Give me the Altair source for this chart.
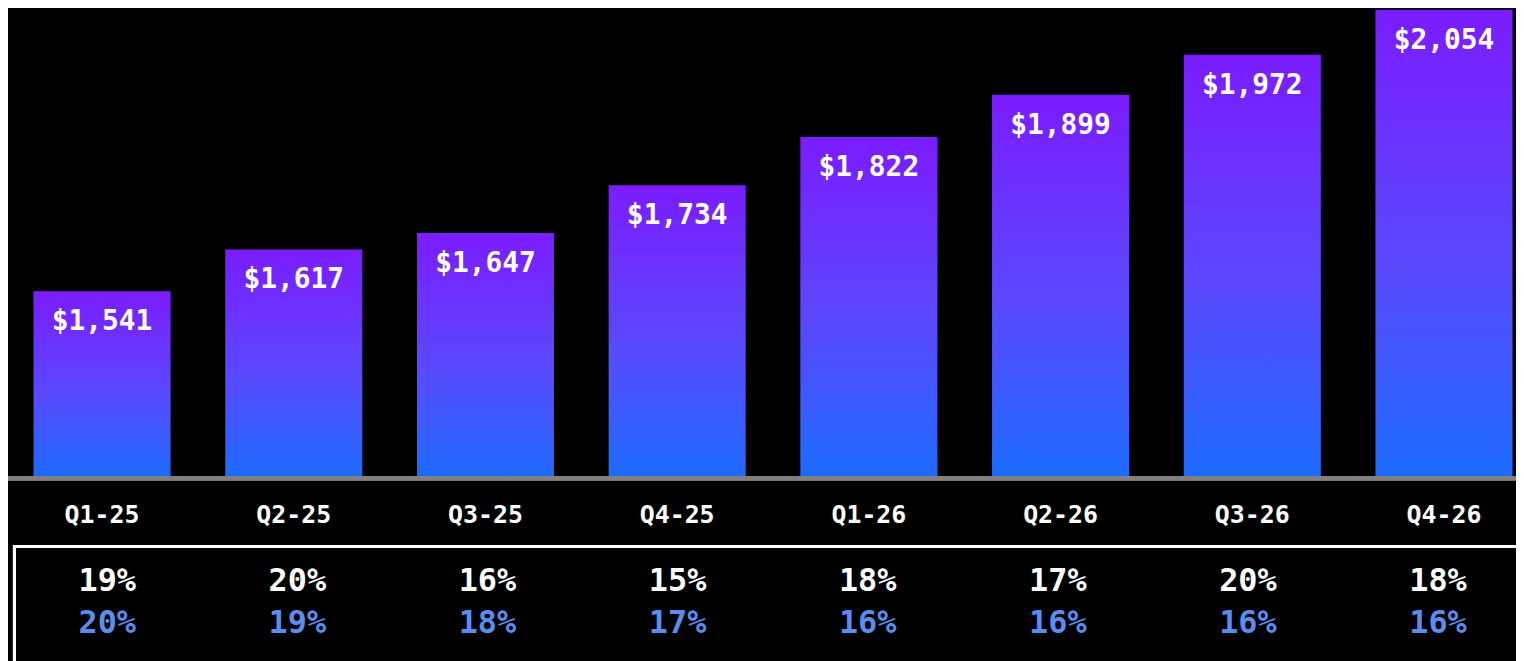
import altair as alt
import pandas as pd

quarters = ["Q1-25", "Q2-25", "Q3-25", "Q4-25", "Q1-26", "Q2-26", "Q3-26", "Q4-26"]
values = [1541, 1617, 1647, 1734, 1822, 1899, 1972, 2054]
growth_top = ["19%", "20%", "16%", "15%", "18%", "17%", "20%", "18%"]
growth_bottom = ["20%", "19%", "18%", "17%", "16%", "16%", "16%", "16%"]

Y_MIN = 1202
Y_MAX = 2054
FONT = "DejaVu Sans Mono"

df = pd.DataFrame({
    "quarter": quarters,
    "value": values,
    "label": ["${:,}".format(v) for v in values],
    "g1": growth_top,
    "g2": growth_bottom,
})

x = alt.X("quarter:N", sort=quarters, axis=None,
          scale=alt.Scale(paddingInner=0.285, paddingOuter=0.0756, align=0.88, round=False))
x_pct = alt.X("quarter:N", sort=quarters, axis=None,
              scale=alt.Scale(type="point", padding=0.466, align=0.56, round=False))
yscale = alt.Scale(domain=[Y_MIN, Y_MAX], range=[470, 0], zero=False, clamp=True)

base = alt.Chart(df)

bars = base.mark_bar(
    fill=alt.Gradient(
        gradient="linear",
        stops=[alt.GradientStop(color="#7B1CFF", offset=0),
               alt.GradientStop(color="#5A49FF", offset=0.55),
               alt.GradientStop(color="#1C6BFF", offset=1)],
        x1=0, x2=0, y1=0, y2=1,
    )
).encode(
    x=x,
    y=alt.Y("value:Q", scale=yscale, axis=None),
    y2=alt.datum(Y_MIN),
)

value_labels = base.mark_text(
    font=FONT, fontWeight="bold", fontSize=28, color="white",
    baseline="middle", dy=31,
).encode(x=x, y=alt.Y("value:Q", scale=yscale, axis=None), text="label:N")

baseline = base.mark_rule(color="#808080", strokeWidth=4).encode(
    x=alt.value(-1), x2=alt.value(1516), y=alt.value(471)
)

x_labels = base.mark_text(
    font=FONT, fontWeight="bold", fontSize=25, color="white", baseline="middle"
).encode(x=x, y=alt.value(508), text="quarter:N")

box = base.mark_rect(filled=False, stroke="white", strokeWidth=3).encode(
    x=alt.value(6.5), x2=alt.value(1540), y=alt.value(539.5), y2=alt.value(720)
)

row1 = base.mark_text(
    font=FONT, fontWeight="bold", fontSize=32, color="white", baseline="middle"
).encode(x=x_pct, y=alt.value(574), text="g1:N")

row2 = base.mark_text(
    font=FONT, fontWeight="bold", fontSize=32, color="#5B8DEF", baseline="middle"
).encode(x=x_pct, y=alt.value(617), text="g2:N")

top = alt.layer(bars, value_labels, baseline, x_labels, box)
bottom = alt.layer(row1, row2)

chart = alt.layer(top, bottom).resolve_scale(x="independent").properties(
    width=1516, height=653,
    autosize=alt.AutoSizeParams(type="none"),
    padding=0,
    background="black",
).configure_view(stroke=None)

chart.save("out.html", embed_options={"renderer": "svg", "actions": False})
